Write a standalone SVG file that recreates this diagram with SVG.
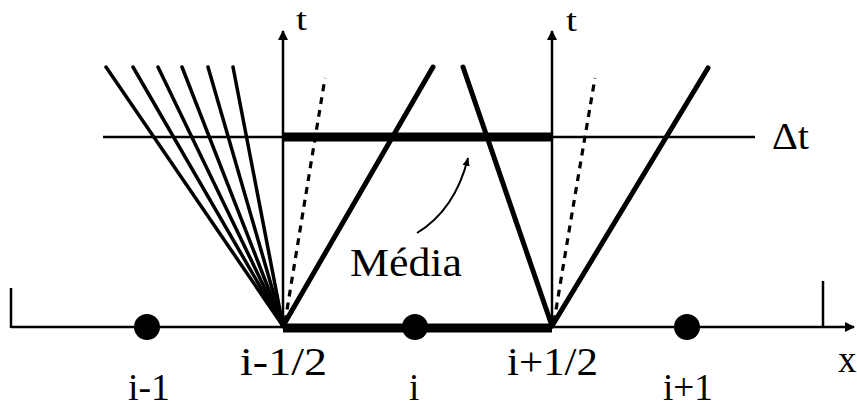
<svg xmlns="http://www.w3.org/2000/svg" width="857" height="407" viewBox="0 0 857 407">
<defs>
<style>
.thin{stroke:#000;stroke-width:2.5;fill:none}
.fan{stroke:#000;stroke-width:3.5;fill:none;stroke-linecap:round}
.thick{stroke:#000;stroke-width:5;fill:none;stroke-linecap:round}
.bar{stroke:#000;stroke-width:9;fill:none}
.dash{stroke:#000;stroke-width:3.2;fill:none;stroke-dasharray:7 6}
text{fill:#000}
</style>
<marker id="arr" viewBox="0 0 10 10" refX="9" refY="5" markerWidth="4" markerHeight="4" orient="auto" markerUnits="strokeWidth">
<path d="M0,0 L10,5 L0,10 Z" fill="#000"/>
</marker>
<marker id="arrs" viewBox="0 0 10 10" refX="9" refY="5" markerWidth="9" markerHeight="9" orient="auto" markerUnits="userSpaceOnUse">
<path d="M0,1 L10,5 L0,9 Z" fill="#000"/>
</marker>
</defs>
<rect width="857" height="407" fill="#fff"/>
<g id="axes">
<line class="thin" x1="11" y1="327" x2="854" y2="327" marker-end="url(#arr)"/>
<line class="thin" x1="11" y1="288" x2="11" y2="328"/>
<line class="thin" x1="823" y1="281" x2="823" y2="327"/>
<line class="thin" x1="283" y1="327" x2="283" y2="31" marker-end="url(#arr)"/>
<line class="thin" x1="552" y1="327" x2="552" y2="31" marker-end="url(#arr)"/>
<line class="thin" x1="103" y1="137" x2="755" y2="137"/>
<line class="bar" x1="283" y1="137" x2="552" y2="137"/>
<line class="bar" x1="283" y1="328" x2="552" y2="328"/>
</g>
<g id="connectors">
<line class="fan" x1="283" y1="326" x2="106" y2="67"/>
<line class="fan" x1="283" y1="326" x2="133" y2="67"/>
<line class="fan" x1="283" y1="326" x2="158" y2="67"/>
<line class="fan" x1="283" y1="326" x2="182" y2="67"/>
<line class="fan" x1="283" y1="326" x2="208" y2="67"/>
<line class="fan" x1="283" y1="326" x2="233" y2="67"/>
<path class="dash" d="M285,322 Q300,230 325,78"/>
<line class="thick" x1="283" y1="326" x2="433" y2="67"/>
<line class="thick" x1="552" y1="326" x2="463" y2="67"/>
<path class="dash" d="M554,322 Q569,230 595,78"/>
<line class="thick" x1="552" y1="326" x2="708" y2="68"/>
<path d="M417,233 Q455,210 468,158" stroke="#000" stroke-width="2" fill="none" marker-end="url(#arrs)"/>
</g>
<g font-family="'Liberation Serif', 'DejaVu Serif', 'Times New Roman', serif" font-size="37">
<g id="node-i-1"><circle cx="147" cy="327" r="13" fill="#000"/><text x="128" y="400" textLength="42" lengthAdjust="spacingAndGlyphs">i-1</text></g>
<g id="node-i"><circle cx="415" cy="327" r="13" fill="#000"/><text x="409" y="400">i</text></g>
<g id="node-i+1"><circle cx="687" cy="327" r="13" fill="#000"/><text x="663" y="400" textLength="50" lengthAdjust="spacingAndGlyphs">i+1</text></g>
<g id="label-i-half-minus"><text x="240" y="375" font-size="40" textLength="87" lengthAdjust="spacingAndGlyphs">i-1/2</text></g>
<g id="label-i-half-plus"><text x="507" y="375" font-size="40" textLength="91" lengthAdjust="spacingAndGlyphs">i+1/2</text></g>
<g id="label-t1"><text x="296" y="30" font-size="31" textLength="11" lengthAdjust="spacingAndGlyphs">t</text></g>
<g id="label-t2"><text x="566" y="31" font-size="31" textLength="11" lengthAdjust="spacingAndGlyphs">t</text></g>
<g id="label-dt"><text x="772" y="149" textLength="37" lengthAdjust="spacingAndGlyphs">Δt</text></g>
<g id="label-x"><text x="838" y="372">x</text></g>
<g id="label-media"><text x="350" y="276" font-size="41" textLength="112" lengthAdjust="spacingAndGlyphs">Média</text></g>
</g>
</svg>
